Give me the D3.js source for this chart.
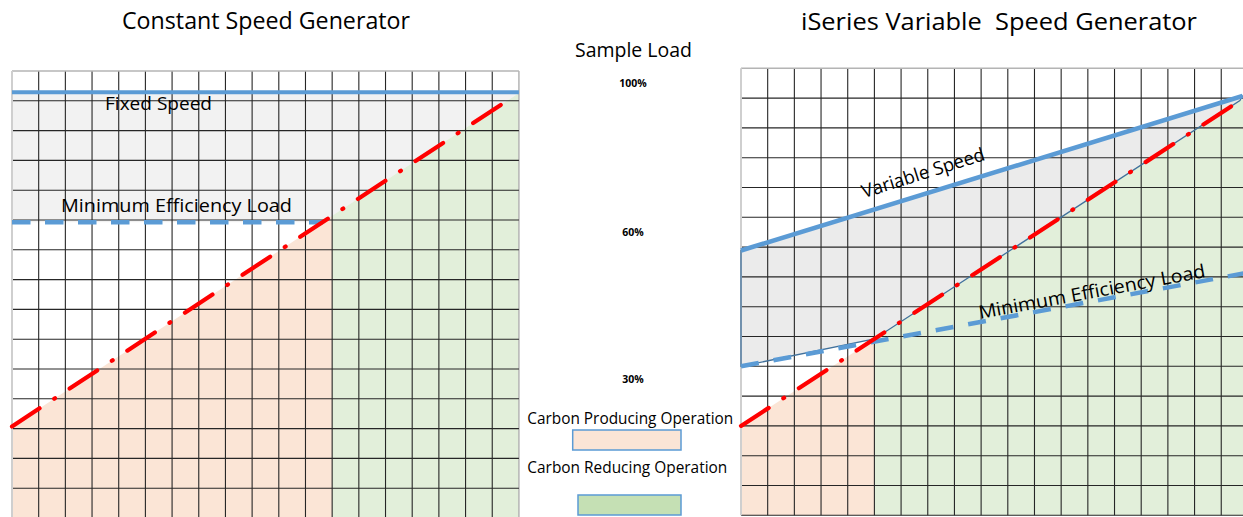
<!DOCTYPE html>
<html>
<head>
<meta charset="utf-8">
<script src="https://cdn.jsdelivr.net/npm/d3@7"></script>
<style>
  body { margin: 0; background: #fff; }
  svg { display: block; }
  text { font-family: "Open Sans", sans-serif; fill: #000; white-space: pre; }
</style>
</head>
<body>
<script>
// Grid size of both panels (columns x rows) and the load range the rows cover.
const cols = 19, rows = 15, loadMax = 105;

// Constant speed panel, [column, load %]
const fixedSpeed = 100;
const minEffLeft = 69.5;
const redLeft = [[0, 21.5], [18.75, 98.8]];
const greenFromLeft = 12;

// Variable speed panel, [column, load %]
const variableSpeed = [[0, 62.2], [18.8, 98.5]];
const minEffRight = [[0, 35], [19, 57]];
const redRight = [[0, 21], [18.7, 97.4]];
const greenFromRight = 5;

const titles = ["Constant Speed Generator", "iSeries Variable  Speed Generator"];
const sampleLoadLabels = ["100%", "60%", "30%"];
const legendLabels = ["Carbon Producing Operation", "Carbon Reducing Operation"];

const colors = {
  grid: "#262626", border: "#b4b4b4", blue: "#5b9bd5", blueDark: "#41719c",
  red: "#ff0000", grayL: "#f2f2f2", grayR: "#ebebeb",
  peach: "#fbe5d6", green: "#e2efda", greenLegend: "#c5e0b4"
};

const W = 1243, H = 517;
const svg = d3.select("body").append("svg").attr("width", W).attr("height", H);

// value of a straight segment at column c (extrapolates past the ends)
function lineAt(pts, c) {
  const [a, b] = pts;
  return a[1] + (c - a[0]) * (b[1] - a[1]) / (b[0] - a[0]);
}
function colAt(pts, v) {
  const [a, b] = pts;
  return a[0] + (v - a[1]) * (b[0] - a[0]) / (b[1] - a[1]);
}

function panel(x0, y0) {
  const g = svg.append("g");
  const x = d3.scaleLinear().domain([0, cols]).range([x0, x0 + cols * 26.68]);
  const y = d3.scaleLinear().domain([0, loadMax]).range([y0 + rows * 29.8, y0]);
  return { g, x, y };
}

function drawGrid(p) {
  const { g, x, y } = p;
  g.append("g").selectAll("line").data(d3.range(1, cols + 1)).join("line")
    .attr("x1", d => x(d)).attr("x2", d => x(d))
    .attr("y1", y(loadMax)).attr("y2", y(0))
    .attr("stroke", d => d === cols ? colors.border : colors.grid)
    .attr("stroke-width", d => d === cols ? 1.5 : 1.1);
  g.append("g").selectAll("line").data(d3.range(0, rows)).join("line")
    .attr("x1", x(0)).attr("x2", x(cols))
    .attr("y1", d => y(d * loadMax / rows)).attr("y2", d => y(d * loadMax / rows))
    .attr("stroke", colors.grid).attr("stroke-width", 1.1);
  g.append("line").attr("x1", x(0)).attr("x2", x(cols))
    .attr("y1", y(loadMax)).attr("y2", y(loadMax))
    .attr("stroke", colors.border).attr("stroke-width", 1.5);
  g.append("line").attr("x1", x(0)).attr("x2", x(0))
    .attr("y1", y(loadMax)).attr("y2", y(0))
    .attr("stroke", "#cfcfcf").attr("stroke-width", 2);
}

function underArea(p, pts, from, to, fill) {
  const area = d3.area()
    .x(d => p.x(d)).y0(p.y(0)).y1(d => p.y(Math.min(lineAt(pts, d), loadMax)));
  p.g.append("path").attr("d", area([from, to])).attr("fill", fill);
}

function redLine(p, pts) {
  p.g.append("path")
    .attr("d", d3.line().x(d => p.x(d[0])).y(d => p.y(d[1]))(pts))
    .attr("fill", "none").attr("stroke", colors.red).attr("stroke-width", 4.2)
    .attr("stroke-linecap", "round").attr("stroke-dasharray", "33 17.5 1 17.5");
}

// ---------- Constant speed panel ----------
const L = panel(12, 71);
const crossL = colAt(redLeft, minEffLeft);
const polyL = [[0, fixedSpeed], [colAt(redLeft, fixedSpeed), fixedSpeed], [crossL, minEffLeft], [0, minEffLeft]];
L.g.append("path")
  .attr("d", d3.line().x(d => L.x(d[0])).y(d => L.y(d[1]))(polyL) + "Z")
  .attr("fill", colors.grayL);
underArea(L, redLeft, 0, greenFromLeft, colors.peach);
underArea(L, redLeft, greenFromLeft, cols, colors.green);
drawGrid(L);
L.g.append("line").attr("x1", L.x(0)).attr("x2", L.x(cols))
  .attr("y1", L.y(fixedSpeed)).attr("y2", L.y(fixedSpeed))
  .attr("stroke", colors.blue).attr("stroke-width", 4);
L.g.append("line").attr("x1", L.x(0)).attr("x2", L.x(crossL))
  .attr("y1", L.y(minEffLeft)).attr("y2", L.y(minEffLeft))
  .attr("stroke", colors.blue).attr("stroke-width", 4.5).attr("stroke-dasharray", "18.5 14.5");
redLine(L, redLeft);
L.g.append("text").attr("x", 158.5).attr("y", 110).attr("text-anchor", "middle")
  .attr("font-size", 19).attr("textLength", 107).attr("lengthAdjust", "spacingAndGlyphs")
  .text("Fixed Speed");
L.g.append("text").attr("x", 176.5).attr("y", 212).attr("text-anchor", "middle")
  .attr("font-size", 18.5).attr("textLength", 231).attr("lengthAdjust", "spacingAndGlyphs")
  .text("Minimum Efficiency Load");

// ---------- Variable speed panel ----------
const R = panel(741, 68.3);
const polyR = [variableSpeed[0], variableSpeed[1], redRight[1],
  [greenFromRight, lineAt(redRight, greenFromRight)], minEffRight[0]];
const polyPath = d3.line().x(d => R.x(d[0])).y(d => R.y(d[1]))(polyR) + "Z";
R.g.append("path").attr("d", polyPath).attr("fill", colors.grayR);
underArea(R, redRight, 0, greenFromRight, colors.peach);
underArea(R, redRight, greenFromRight, cols, colors.green);
drawGrid(R);
R.g.append("path").attr("d", polyPath).attr("fill", "none")
  .attr("stroke", colors.blueDark).attr("stroke-width", 1.3);
R.g.append("path")
  .attr("d", d3.line().x(d => R.x(d[0])).y(d => R.y(d[1]))(minEffRight))
  .attr("fill", "none").attr("stroke", colors.blue).attr("stroke-width", 4.5)
  .attr("stroke-dasharray", "18 15");
redLine(R, redRight);
R.g.append("path")
  .attr("d", d3.line().x(d => R.x(d[0])).y(d => R.y(d[1]))(variableSpeed))
  .attr("fill", "none").attr("stroke", colors.blue).attr("stroke-width", 4.5);
R.g.append("text").attr("transform", "translate(925,179) rotate(-17.5)")
  .attr("text-anchor", "middle").attr("font-size", 18.5)
  .attr("textLength", 128).attr("lengthAdjust", "spacingAndGlyphs")
  .text("Variable Speed");
R.g.append("text").attr("transform", "translate(1093,298) rotate(-10.5)")
  .attr("text-anchor", "middle").attr("font-size", 18.5)
  .attr("textLength", 230).attr("lengthAdjust", "spacingAndGlyphs")
  .text("Minimum Efficiency Load");

// ---------- Titles ----------
svg.append("text").attr("x", 122).attr("y", 29).attr("font-size", 24.5)
  .attr("textLength", 288).attr("lengthAdjust", "spacingAndGlyphs").text(titles[0]);
svg.append("text").attr("x", 801).attr("y", 30).attr("font-size", 24.5)
  .attr("textLength", 396).attr("lengthAdjust", "spacingAndGlyphs").text(titles[1]);

// ---------- Middle column ----------
svg.append("text").attr("x", 575).attr("y", 56.5).attr("font-size", 19.5)
  .attr("textLength", 117).attr("lengthAdjust", "spacingAndGlyphs").text("Sample Load");
const tickY = [86.5, 236, 383.3];
svg.append("g").selectAll("text").data(sampleLoadLabels).join("text")
  .attr("x", 633).attr("y", (d, i) => tickY[i]).attr("text-anchor", "middle")
  .attr("font-size", 10.5).attr("font-weight", "bold").text(d => d);

const legendY = [424, 473.3];
const legendW = [206, 200];
const legendBox = [[572.7, 430, 108.3], [578, 495, 103]];
const legendFill = [colors.peach, colors.greenLegend];
legendLabels.forEach((lab, i) => {
  svg.append("text").attr("x", 527.3).attr("y", legendY[i]).attr("font-size", 15.5)
    .attr("textLength", legendW[i]).attr("lengthAdjust", "spacingAndGlyphs").text(lab);
  svg.append("rect").attr("x", legendBox[i][0]).attr("y", legendBox[i][1])
    .attr("width", legendBox[i][2]).attr("height", 20)
    .attr("fill", legendFill[i]).attr("stroke", colors.blue).attr("stroke-width", 1.5);
});
</script>
</body>
</html>
